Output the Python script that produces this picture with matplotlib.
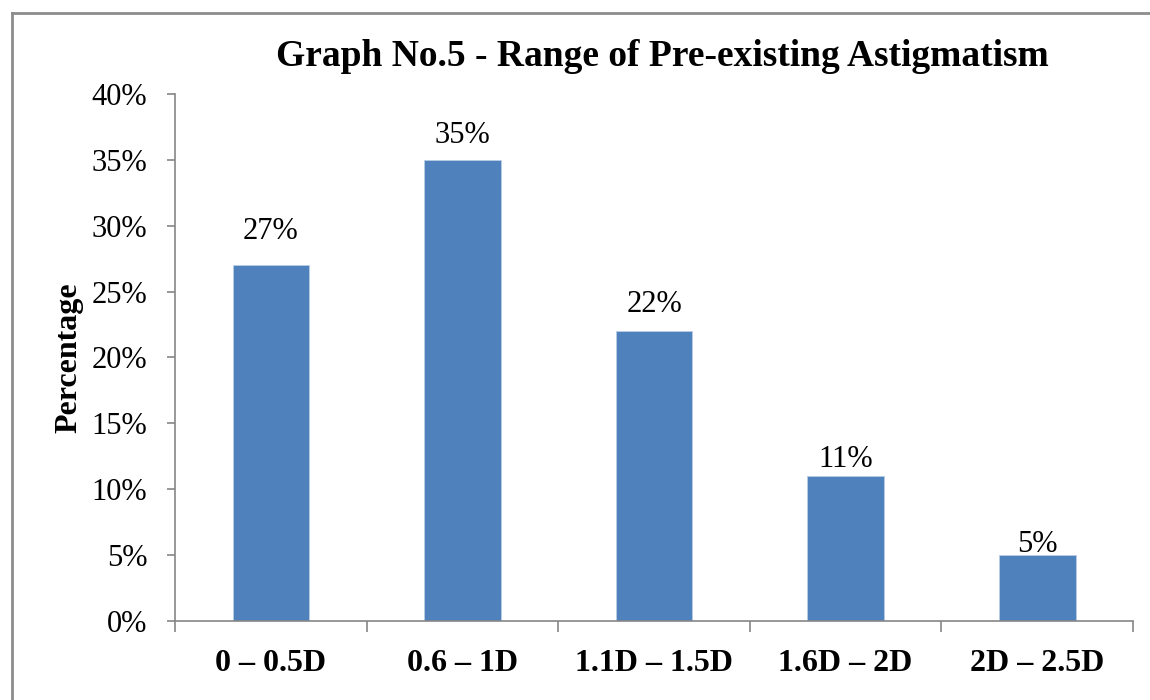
import matplotlib.pyplot as plt
from matplotlib.lines import Line2D
from matplotlib.ticker import FuncFormatter

categories = ['0 – 0.5D', '0.6 – 1D', '1.1D – 1.5D', '1.6D – 2D', '2D – 2.5D']
percentages = [27, 35, 22, 11, 5]
y_ticks = [0, 5, 10, 15, 20, 25, 30, 35, 40]

bar_color = '#4F81BD'
axis_gray = '#868686'
# gap (points) between each bar top and its value label
label_gaps = [14, 7, 9, 1.5, -3]

plt.rcParams['font.family'] = ['Liberation Serif', 'DejaVu Serif']

fig = plt.figure(figsize=(11.5, 7), dpi=100)
ax = fig.add_axes([0.1522, 0.1129, 0.833, 0.7529])

x = list(range(len(categories)))
ax.bar(x, percentages, width=0.4, color=bar_color, edgecolor='#B9CDE5', linewidth=0.6, zorder=2)

for xi, v, gap in zip(x, percentages, label_gaps):
    ax.annotate(f'{v}%', (xi, v), xytext=(0, gap), textcoords='offset points',
                ha='center', va='bottom', fontsize=22)

ax.set_xlim(-0.5, len(categories) - 0.5)
ax.set_ylim(0, 40)
ax.set_yticks(y_ticks)
ax.yaxis.set_major_formatter(FuncFormatter(lambda v, p: f'{v:.0f}%'))
ax.tick_params(axis='y', labelsize=22, length=6, width=1.2, color=axis_gray, pad=14, direction='out')

# category labels centred, tick marks on the category boundaries
ax.set_xticks(x)
ax.set_xticklabels(categories, fontsize=23, fontweight='bold')
ax.set_xticks([i - 0.5 for i in range(len(categories) + 1)], minor=True)
ax.tick_params(axis='x', which='major', length=0, pad=20)
ax.tick_params(axis='x', which='minor', length=8, width=1.2, color=axis_gray, direction='out')

for side in ('top', 'right'):
    ax.spines[side].set_visible(False)
for side in ('left', 'bottom'):
    ax.spines[side].set_color(axis_gray)
    ax.spines[side].set_linewidth(1.2)

ax.set_ylabel('Percentage', fontsize=23, fontweight='bold', labelpad=6)
fig.text(0.576, 0.92, 'Graph No.5 - Range of Pre-existing Astigmatism',
         ha='center', va='center', fontsize=27, fontweight='bold')

# outer frame of the chart area
fig.add_artist(Line2D([0.0100, 0.0100], [0.0, 0.9815], color='#8C8C8C', lw=2, transform=fig.transFigure))
fig.add_artist(Line2D([0.0100, 1.0], [0.9815, 0.9815], color='#8C8C8C', lw=2, transform=fig.transFigure))

fig.savefig('out.png', dpi=100, facecolor='white')
